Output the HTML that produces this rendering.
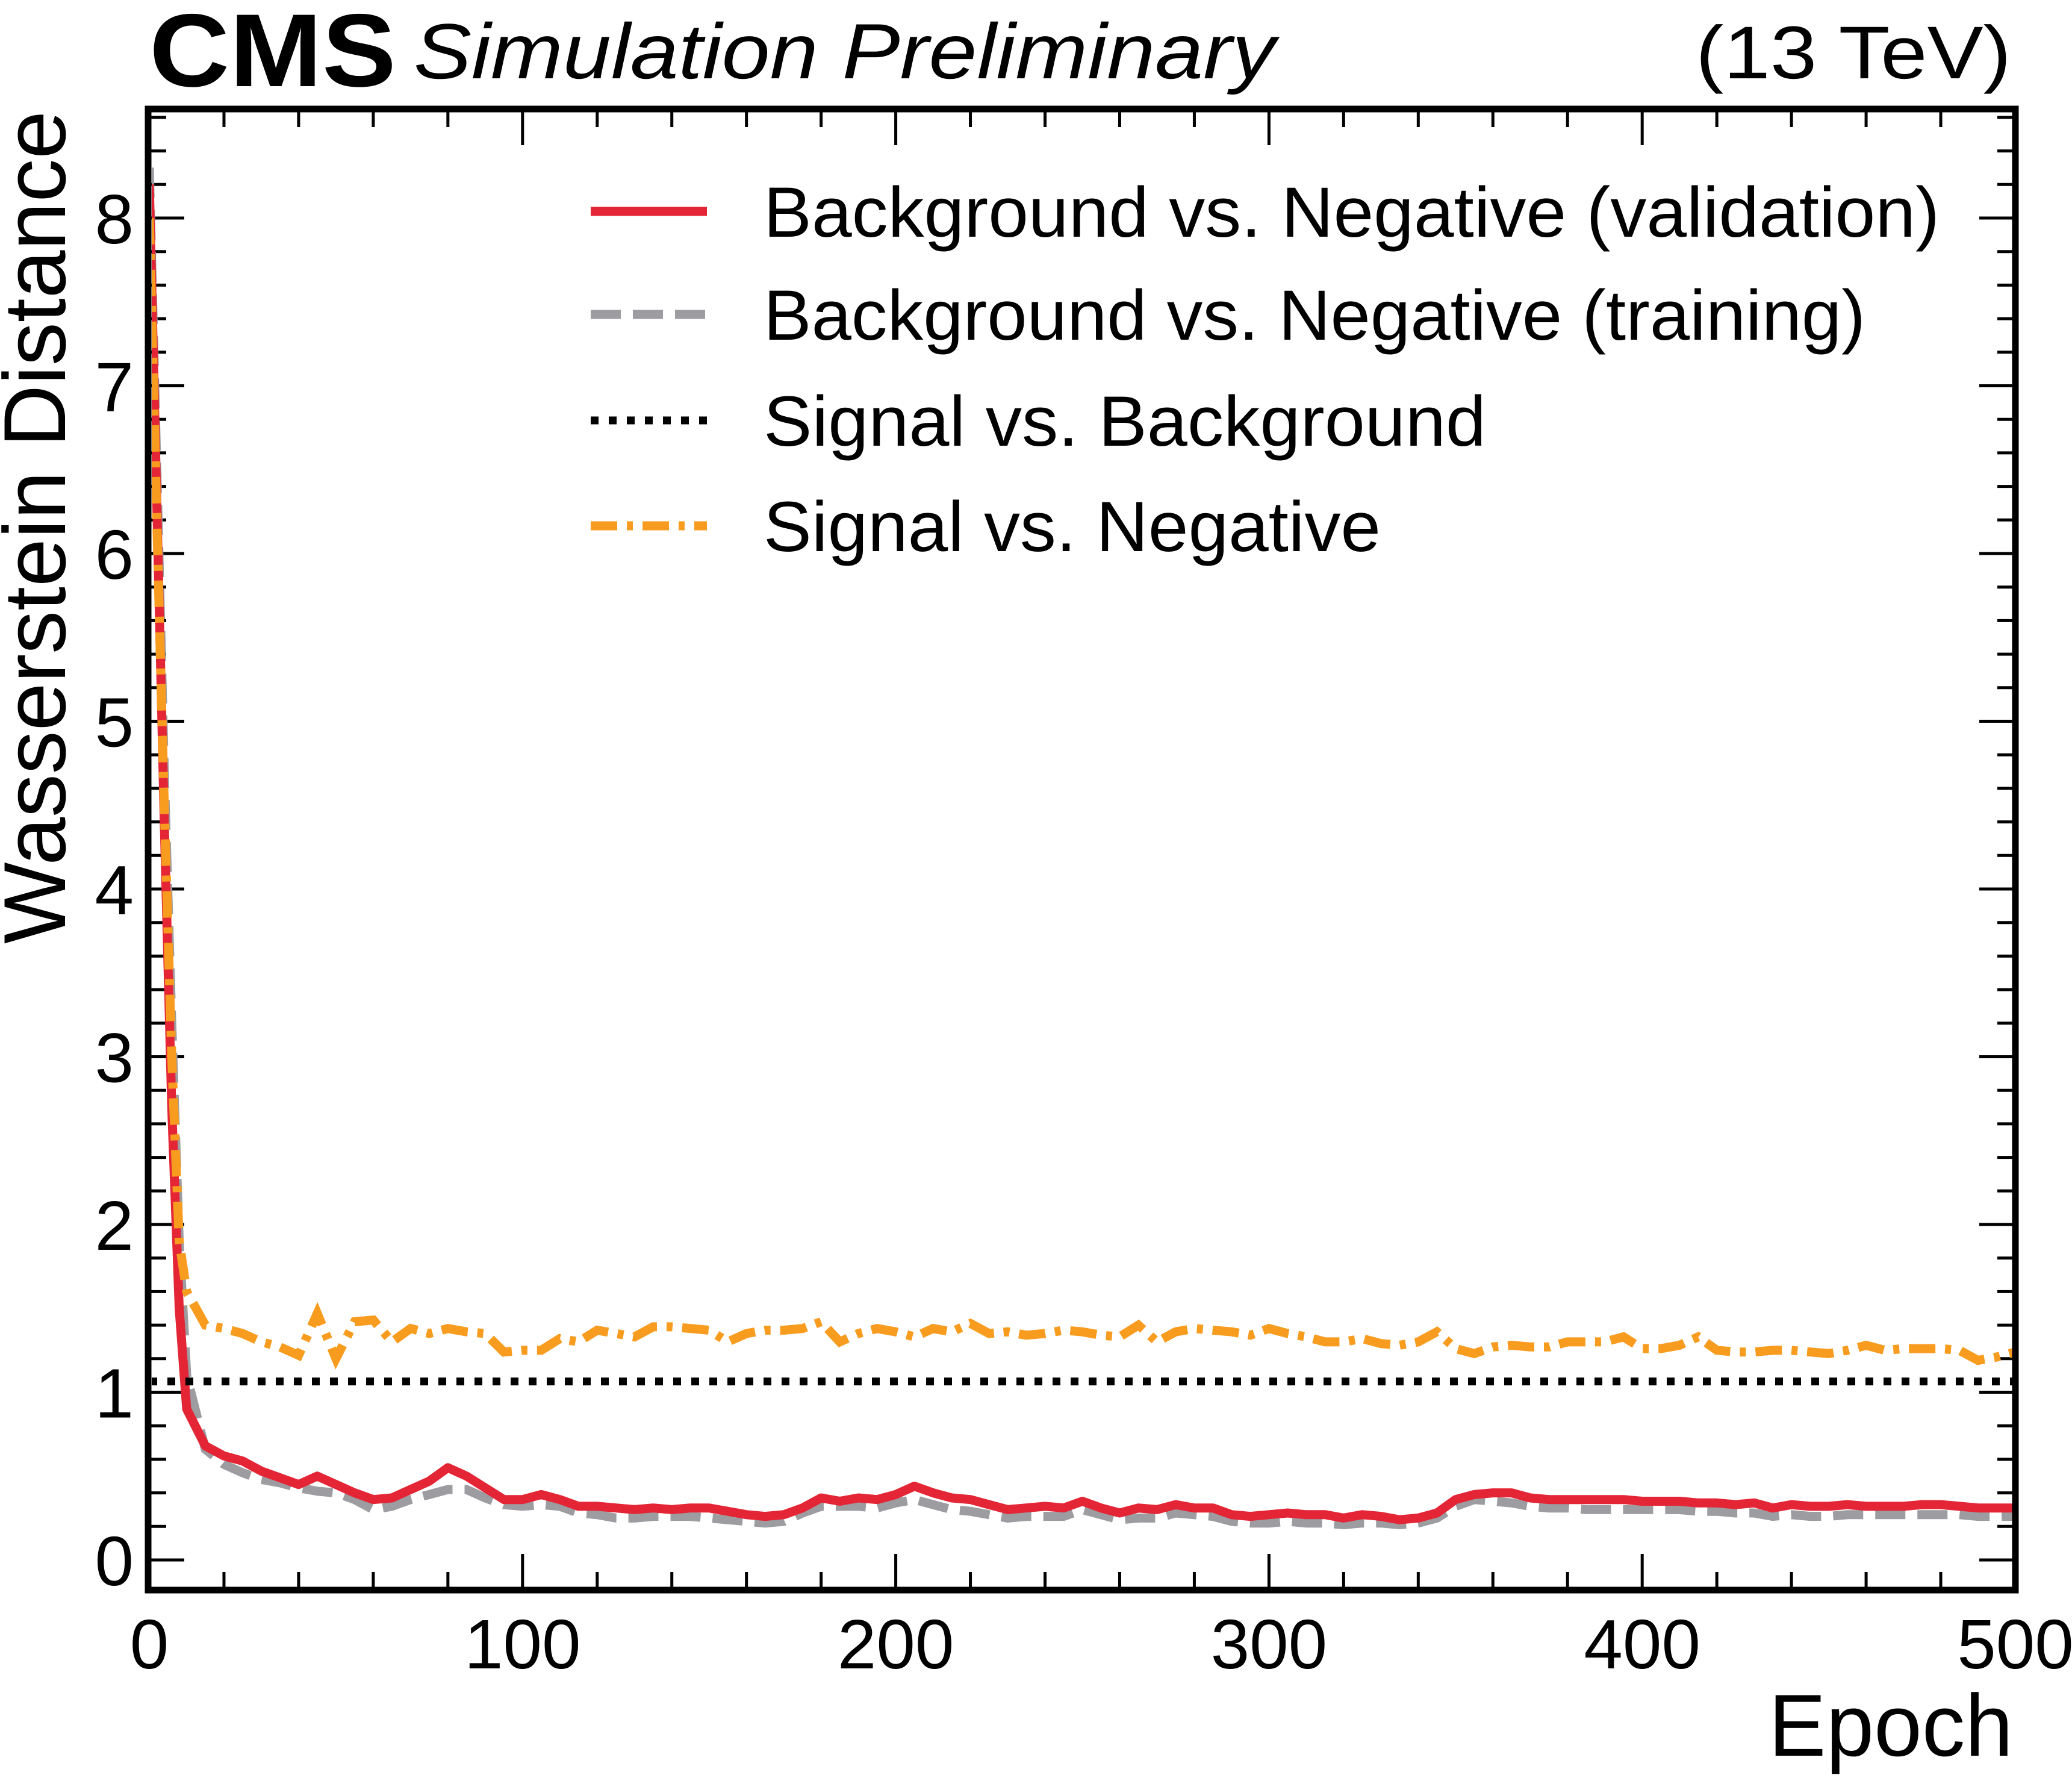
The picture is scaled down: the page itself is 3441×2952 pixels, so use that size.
<!DOCTYPE html>
<html><head><meta charset="utf-8"><style>
html,body{margin:0;padding:0;background:#fff;}
svg{display:block;font-family:"Liberation Sans",Arial,sans-serif;}
</style></head><body>
<svg id="chart" width="3441" height="2952" viewBox="0 0 3441 2952" xmlns="http://www.w3.org/2000/svg">
<rect width="3441" height="2952" fill="#fff"/>
<g id="ticks"></g>
<defs><clipPath id="clip"><rect x="252" y="186" width="3090" height="2449"/></clipPath></defs>
<g id="series" clip-path="url(#clip)"></g>
<rect x="246" y="181" width="3101" height="2459" fill="none" stroke="#000" stroke-width="11"/>
<g id="labels"></g>
<text x="248" y="143" font-size="172" font-weight="bold" textLength="410" lengthAdjust="spacingAndGlyphs">CMS</text>
<text x="687" y="130" font-size="130" font-style="italic" textLength="1431" lengthAdjust="spacingAndGlyphs">Simulation Preliminary</text>
<text x="3340" y="130" font-size="124" text-anchor="end" textLength="524" lengthAdjust="spacingAndGlyphs">(13 TeV)</text>
<text transform="translate(108,1567) rotate(-90)" font-size="146" textLength="1383" lengthAdjust="spacingAndGlyphs">Wasserstein Distance</text>
<text x="3343" y="2915" font-size="146" text-anchor="end" textLength="406" lengthAdjust="spacingAndGlyphs">Epoch</text>
<g id="legend"></g>
</svg>
<script>
const earlyEpochs=[0,2,4,6,8,10];
const epochs=earlyEpochs.concat(Array.from({length:98},(_, i)=>15+5*i));
const bkgNegValidation=[8.2,6.3,4.4,2.7,1.5,0.9,
0.68,0.62,0.59,0.53,0.49,0.45,0.5,0.45,0.4,0.36,
0.37,0.42,0.47,0.55,0.5,0.43,0.36,0.36,0.39,0.36,
0.32,0.32,0.31,0.3,0.31,0.3,0.31,0.31,0.29,0.27,
0.26,0.27,0.31,0.37,0.35,0.37,0.36,0.39,0.44,0.4,
0.37,0.36,0.33,0.3,0.31,0.32,0.31,0.35,0.31,0.28,
0.31,0.3,0.33,0.31,0.31,0.27,0.26,0.27,0.28,0.27,
0.27,0.25,0.27,0.26,0.24,0.25,0.28,0.36,0.39,0.4,
0.4,0.37,0.36,0.36,0.36,0.36,0.36,0.35,0.35,0.35,
0.34,0.34,0.33,0.34,0.31,0.33,0.32,0.32,0.33,0.32,
0.32,0.32,0.33,0.33,0.32,0.31,0.31,0.31];
const bkgNegTraining=[8.3,6.5,4.7,3.2,1.9,1.1,
0.66,0.57,0.52,0.48,0.46,0.43,0.41,0.4,0.36,0.3,
0.32,0.36,0.39,0.42,0.42,0.37,0.33,0.32,0.33,0.32,
0.28,0.27,0.25,0.25,0.26,0.26,0.26,0.25,0.24,0.23,
0.22,0.23,0.28,0.32,0.32,0.32,0.31,0.34,0.36,0.33,
0.3,0.29,0.27,0.25,0.26,0.26,0.26,0.3,0.27,0.24,
0.25,0.25,0.28,0.27,0.26,0.23,0.22,0.22,0.23,0.22,
0.22,0.21,0.22,0.22,0.21,0.22,0.25,0.32,0.36,0.35,
0.34,0.32,0.31,0.31,0.3,0.3,0.3,0.3,0.3,0.3,
0.29,0.29,0.28,0.28,0.26,0.27,0.26,0.26,0.27,0.27,
0.27,0.27,0.27,0.27,0.27,0.26,0.26,0.26];
const sigNeg=[8.0,6.2,4.5,3.0,1.9,1.6,
1.4,1.38,1.35,1.3,1.27,1.22,1.47,1.2,1.42,1.43,
1.3,1.38,1.35,1.38,1.36,1.35,1.24,1.25,1.25,1.32,
1.3,1.37,1.35,1.33,1.39,1.39,1.38,1.37,1.3,1.35,
1.37,1.37,1.38,1.42,1.3,1.35,1.38,1.36,1.33,1.38,
1.36,1.41,1.35,1.36,1.34,1.35,1.37,1.36,1.34,1.33,
1.4,1.3,1.36,1.38,1.37,1.36,1.34,1.38,1.35,1.33,
1.3,1.3,1.32,1.29,1.28,1.3,1.36,1.26,1.23,1.27,
1.28,1.27,1.27,1.3,1.3,1.3,1.33,1.26,1.26,1.28,
1.33,1.25,1.24,1.24,1.25,1.25,1.24,1.23,1.25,1.28,
1.25,1.26,1.26,1.26,1.25,1.19,1.21,1.24];
const sigBkg=[1.064];
const xTickLabels=[0,100,200,300,400,500];
const yTickLabels=[0,1,2,3,4,5,6,7,8];
const legendLabels=["Background vs. Negative (validation)","Background vs. Negative (training)","Signal vs. Background","Signal vs. Negative"];

const NS="http://www.w3.org/2000/svg";
const X0=248,X1=3347,Y0=2590,YPER=278.5;
function xs(v){return X0+(X1-X0)*v/500;}
function ys(v){return Y0-v*YPER;}
function mk(tag,attrs,parent){const e=document.createElementNS(NS,tag);for(const k in attrs)e.setAttribute(k,attrs[k]);parent.appendChild(e);return e;}

const tg=document.getElementById('ticks');
const lg=document.getElementById('labels');
for(let v=0;v<=500;v+=20){
  const major=v%100===0, L=major?60:30, x=xs(v);
  const t1=mk('line',{x1:x,x2:x,y1:2640,y2:2640-L,stroke:'#000','stroke-width':5},tg);
  
  
  const t2=mk('line',{x1:x,x2:x,y1:181,y2:181+L,stroke:'#000','stroke-width':5},tg);
  
  
}
xTickLabels.forEach(v=>{
  const t=mk('text',{x:xs(v),y:2770,'font-size':116,'text-anchor':'middle'},lg);
  t.textContent=v;
  
  
});
for(let i=0;i<=43;i++){
  const v=i*0.2; const y=ys(v); if(y<186)break;
  const major=i%5===0, L=major?60:30;
  const t1=mk('line',{x1:246,x2:246+L,y1:y,y2:y,stroke:'#000','stroke-width':5},tg);
  
  
  const t2=mk('line',{x1:3347,x2:3347-L,y1:y,y2:y,stroke:'#000','stroke-width':5},tg);
  
  
}
yTickLabels.forEach(v=>{
  const t=mk('text',{x:222,y:ys(v)+42,'font-size':116,'text-anchor':'end'},lg);
  t.textContent=v;
  
  
});

const sg=document.getElementById('series');
function pathFor(vals){const n=Math.min(vals.length,epochs.length);let d='';for(let i=0;i<n;i++){d+=(i?'L':'M')+xs(epochs[i]).toFixed(1)+','+ys(vals[i]).toFixed(1);}return d;}
const pTrain=mk('path',{d:pathFor(bkgNegTraining),fill:'none',stroke:'#9c9ca1','stroke-width':15,'stroke-dasharray':'50 20'},sg);


const pVal=mk('path',{d:pathFor(bkgNegValidation),fill:'none',stroke:'#e42536','stroke-width':15,'stroke-linejoin':'round'},sg);


const pSB=mk('line',{x1:xs(0),x2:xs(500),y1:ys(sigBkg[0]),y2:ys(sigBkg[0]),stroke:'#000','stroke-width':13,'stroke-dasharray':'13 17'},sg);


const pSN=mk('path',{d:pathFor(sigNeg),fill:'none',stroke:'#f89c20','stroke-width':15,'stroke-dasharray':'44 16 10 16'},sg);



const leg=document.getElementById('legend');
const styles=[{s:'#e42536',d:'none',w:15},{s:'#9c9ca1',d:'50 20',w:15},{s:'#000',d:'13 17',w:13},{s:'#f89c20',d:'44 16 10 16',w:15}];
const legY=[351,522,698,873];
const legW=[1953,1830,1200,1025];
legendLabels.forEach((lab,i)=>{
  const g=mk('g',{},leg);
  
  
  const l=mk('line',{x1:981,x2:1174,y1:legY[i],y2:legY[i],stroke:styles[i].s,'stroke-width':styles[i].w,'stroke-dasharray':styles[i].d},g);
  
  
  const t=mk('text',{x:1268,y:legY[i]+42,'font-size':118,textLength:legW[i],lengthAdjust:'spacingAndGlyphs'},g);
  t.textContent=lab;
  
  
});
</script>
</body></html>
